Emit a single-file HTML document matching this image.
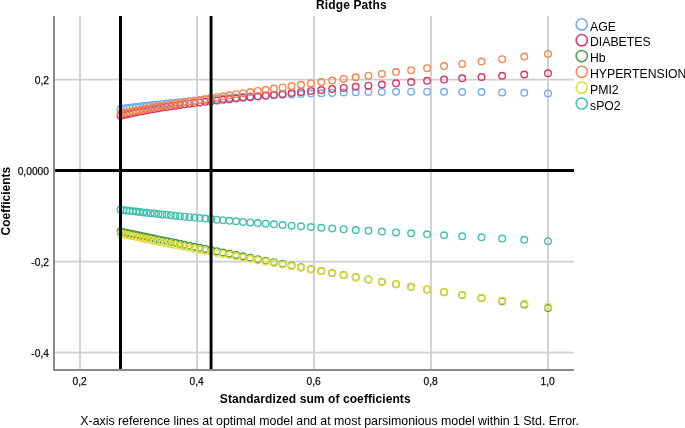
<!DOCTYPE html>
<html><head><meta charset="utf-8"><style>
html,body{margin:0;padding:0;background:#fff;}
svg{display:block;will-change:transform;}
text{font-family:"Liberation Sans",sans-serif;fill:#000;}
</style></head><body>
<svg width="685" height="428" viewBox="0 0 685 428">
<rect x="0" y="0" width="685" height="428" fill="#fff"/>
<g fill="#cfcfcf"><rect x="79.10" y="16" width="1.8" height="353" /><rect x="196.10" y="16" width="1.8" height="353" /><rect x="313.10" y="16" width="1.8" height="353" /><rect x="430.10" y="16" width="1.8" height="353" /><rect x="547.10" y="16" width="1.8" height="353" /><rect x="55" y="78.70" width="519" height="1.8" /><rect x="55" y="260.70" width="519" height="1.8" /><rect x="55" y="351.60" width="519" height="1.8" /></g>
<g fill="none" stroke="#74a9f0" stroke-width="1.4"><circle cx="120.60" cy="108.92" r="3.3"/><circle cx="123.43" cy="108.55" r="3.3"/><circle cx="126.42" cy="108.17" r="3.3"/><circle cx="129.56" cy="107.77" r="3.3"/><circle cx="132.82" cy="107.37" r="3.3"/><circle cx="136.19" cy="106.95" r="3.3"/><circle cx="139.66" cy="106.54" r="3.3"/><circle cx="143.22" cy="106.11" r="3.3"/><circle cx="146.88" cy="105.69" r="3.3"/><circle cx="150.63" cy="105.26" r="3.3"/><circle cx="154.47" cy="104.83" r="3.3"/><circle cx="158.42" cy="104.39" r="3.3"/><circle cx="162.47" cy="103.96" r="3.3"/><circle cx="166.63" cy="103.52" r="3.3"/><circle cx="170.92" cy="103.07" r="3.3"/><circle cx="175.34" cy="102.63" r="3.3"/><circle cx="179.90" cy="102.18" r="3.3"/><circle cx="184.62" cy="101.73" r="3.3"/><circle cx="189.50" cy="101.27" r="3.3"/><circle cx="194.56" cy="100.81" r="3.3"/><circle cx="199.81" cy="100.35" r="3.3"/><circle cx="205.27" cy="99.88" r="3.3"/><circle cx="210.94" cy="99.42" r="3.3"/><circle cx="216.84" cy="98.95" r="3.3"/><circle cx="222.98" cy="98.48" r="3.3"/><circle cx="229.37" cy="98.01" r="3.3"/><circle cx="236.04" cy="97.54" r="3.3"/><circle cx="242.98" cy="97.07" r="3.3"/><circle cx="250.23" cy="96.60" r="3.3"/><circle cx="257.79" cy="96.15" r="3.3"/><circle cx="265.69" cy="95.70" r="3.3"/><circle cx="273.94" cy="95.25" r="3.3"/><circle cx="282.56" cy="94.82" r="3.3"/><circle cx="291.57" cy="94.41" r="3.3"/><circle cx="301.02" cy="94.00" r="3.3"/><circle cx="310.91" cy="93.62" r="3.3"/><circle cx="321.28" cy="93.26" r="3.3"/><circle cx="332.18" cy="92.93" r="3.3"/><circle cx="343.64" cy="92.62" r="3.3"/><circle cx="355.70" cy="92.35" r="3.3"/><circle cx="368.42" cy="92.12" r="3.3"/><circle cx="381.85" cy="91.93" r="3.3"/><circle cx="396.05" cy="91.80" r="3.3"/><circle cx="411.11" cy="91.71" r="3.3"/><circle cx="427.09" cy="91.70" r="3.3"/><circle cx="444.08" cy="91.75" r="3.3"/><circle cx="462.18" cy="91.88" r="3.3"/><circle cx="481.50" cy="92.11" r="3.3"/><circle cx="502.16" cy="92.42" r="3.3"/><circle cx="524.28" cy="92.85" r="3.3"/><circle cx="548.00" cy="93.39" r="3.3"/></g>
<g fill="none" stroke="#d8365f" stroke-width="1.4"><circle cx="120.60" cy="115.63" r="3.3"/><circle cx="123.43" cy="114.99" r="3.3"/><circle cx="126.42" cy="114.33" r="3.3"/><circle cx="129.56" cy="113.65" r="3.3"/><circle cx="132.82" cy="112.97" r="3.3"/><circle cx="136.19" cy="112.28" r="3.3"/><circle cx="139.66" cy="111.60" r="3.3"/><circle cx="143.22" cy="110.91" r="3.3"/><circle cx="146.88" cy="110.24" r="3.3"/><circle cx="150.63" cy="109.56" r="3.3"/><circle cx="154.47" cy="108.90" r="3.3"/><circle cx="158.42" cy="108.23" r="3.3"/><circle cx="162.47" cy="107.58" r="3.3"/><circle cx="166.63" cy="106.93" r="3.3"/><circle cx="170.92" cy="106.28" r="3.3"/><circle cx="175.34" cy="105.64" r="3.3"/><circle cx="179.90" cy="105.00" r="3.3"/><circle cx="184.62" cy="104.36" r="3.3"/><circle cx="189.50" cy="103.72" r="3.3"/><circle cx="194.56" cy="103.09" r="3.3"/><circle cx="199.81" cy="102.45" r="3.3"/><circle cx="205.27" cy="101.81" r="3.3"/><circle cx="210.94" cy="101.17" r="3.3"/><circle cx="216.84" cy="100.53" r="3.3"/><circle cx="222.98" cy="99.87" r="3.3"/><circle cx="229.37" cy="99.21" r="3.3"/><circle cx="236.04" cy="98.54" r="3.3"/><circle cx="242.98" cy="97.84" r="3.3"/><circle cx="250.23" cy="97.13" r="3.3"/><circle cx="257.79" cy="96.38" r="3.3"/><circle cx="265.69" cy="95.60" r="3.3"/><circle cx="273.94" cy="94.78" r="3.3"/><circle cx="282.56" cy="93.92" r="3.3"/><circle cx="291.57" cy="93.02" r="3.3"/><circle cx="301.02" cy="92.07" r="3.3"/><circle cx="310.91" cy="91.08" r="3.3"/><circle cx="321.28" cy="90.06" r="3.3"/><circle cx="332.18" cy="89.00" r="3.3"/><circle cx="343.64" cy="87.92" r="3.3"/><circle cx="355.70" cy="86.81" r="3.3"/><circle cx="368.42" cy="85.67" r="3.3"/><circle cx="381.85" cy="84.50" r="3.3"/><circle cx="396.05" cy="83.31" r="3.3"/><circle cx="411.11" cy="82.09" r="3.3"/><circle cx="427.09" cy="80.85" r="3.3"/><circle cx="444.08" cy="79.59" r="3.3"/><circle cx="462.18" cy="78.32" r="3.3"/><circle cx="481.50" cy="77.04" r="3.3"/><circle cx="502.16" cy="75.75" r="3.3"/><circle cx="524.28" cy="74.48" r="3.3"/><circle cx="548.00" cy="73.23" r="3.3"/></g>
<g fill="none" stroke="#4a9c48" stroke-width="1.4"><circle cx="120.60" cy="231.57" r="3.3"/><circle cx="123.43" cy="232.16" r="3.3"/><circle cx="126.42" cy="232.79" r="3.3"/><circle cx="129.56" cy="233.44" r="3.3"/><circle cx="132.82" cy="234.12" r="3.3"/><circle cx="136.19" cy="234.82" r="3.3"/><circle cx="139.66" cy="235.54" r="3.3"/><circle cx="143.22" cy="236.28" r="3.3"/><circle cx="146.88" cy="237.04" r="3.3"/><circle cx="150.63" cy="237.81" r="3.3"/><circle cx="154.47" cy="238.60" r="3.3"/><circle cx="158.42" cy="239.41" r="3.3"/><circle cx="162.47" cy="240.24" r="3.3"/><circle cx="166.63" cy="241.09" r="3.3"/><circle cx="170.92" cy="241.97" r="3.3"/><circle cx="175.34" cy="242.87" r="3.3"/><circle cx="179.90" cy="243.79" r="3.3"/><circle cx="184.62" cy="244.75" r="3.3"/><circle cx="189.50" cy="245.73" r="3.3"/><circle cx="194.56" cy="246.75" r="3.3"/><circle cx="199.81" cy="247.80" r="3.3"/><circle cx="205.27" cy="248.89" r="3.3"/><circle cx="210.94" cy="250.01" r="3.3"/><circle cx="216.84" cy="251.18" r="3.3"/><circle cx="222.98" cy="252.39" r="3.3"/><circle cx="229.37" cy="253.65" r="3.3"/><circle cx="236.04" cy="254.95" r="3.3"/><circle cx="242.98" cy="256.30" r="3.3"/><circle cx="250.23" cy="257.70" r="3.3"/><circle cx="257.79" cy="259.16" r="3.3"/><circle cx="265.69" cy="260.67" r="3.3"/><circle cx="273.94" cy="262.23" r="3.3"/><circle cx="282.56" cy="263.86" r="3.3"/><circle cx="291.57" cy="265.55" r="3.3"/><circle cx="301.02" cy="267.31" r="3.3"/><circle cx="310.91" cy="269.14" r="3.3"/><circle cx="321.28" cy="271.04" r="3.3"/><circle cx="332.18" cy="273.01" r="3.3"/><circle cx="343.64" cy="275.07" r="3.3"/><circle cx="355.70" cy="277.22" r="3.3"/><circle cx="368.42" cy="279.45" r="3.3"/><circle cx="381.85" cy="281.78" r="3.3"/><circle cx="396.05" cy="284.21" r="3.3"/><circle cx="411.11" cy="286.75" r="3.3"/><circle cx="427.09" cy="289.41" r="3.3"/><circle cx="444.08" cy="292.18" r="3.3"/><circle cx="462.18" cy="295.07" r="3.3"/><circle cx="481.50" cy="298.10" r="3.3"/><circle cx="502.16" cy="301.25" r="3.3"/><circle cx="524.28" cy="304.54" r="3.3"/><circle cx="548.00" cy="307.95" r="3.3"/></g>
<g fill="none" stroke="#f5864f" stroke-width="1.4"><circle cx="120.60" cy="113.63" r="3.3"/><circle cx="123.43" cy="113.10" r="3.3"/><circle cx="126.42" cy="112.54" r="3.3"/><circle cx="129.56" cy="111.97" r="3.3"/><circle cx="132.82" cy="111.37" r="3.3"/><circle cx="136.19" cy="110.76" r="3.3"/><circle cx="139.66" cy="110.13" r="3.3"/><circle cx="143.22" cy="109.49" r="3.3"/><circle cx="146.88" cy="108.84" r="3.3"/><circle cx="150.63" cy="108.18" r="3.3"/><circle cx="154.47" cy="107.50" r="3.3"/><circle cx="158.42" cy="106.82" r="3.3"/><circle cx="162.47" cy="106.12" r="3.3"/><circle cx="166.63" cy="105.40" r="3.3"/><circle cx="170.92" cy="104.67" r="3.3"/><circle cx="175.34" cy="103.92" r="3.3"/><circle cx="179.90" cy="103.16" r="3.3"/><circle cx="184.62" cy="102.37" r="3.3"/><circle cx="189.50" cy="101.57" r="3.3"/><circle cx="194.56" cy="100.74" r="3.3"/><circle cx="199.81" cy="99.89" r="3.3"/><circle cx="205.27" cy="99.02" r="3.3"/><circle cx="210.94" cy="98.12" r="3.3"/><circle cx="216.84" cy="97.19" r="3.3"/><circle cx="222.98" cy="96.23" r="3.3"/><circle cx="229.37" cy="95.24" r="3.3"/><circle cx="236.04" cy="94.22" r="3.3"/><circle cx="242.98" cy="93.17" r="3.3"/><circle cx="250.23" cy="92.09" r="3.3"/><circle cx="257.79" cy="90.97" r="3.3"/><circle cx="265.69" cy="89.82" r="3.3"/><circle cx="273.94" cy="88.62" r="3.3"/><circle cx="282.56" cy="87.39" r="3.3"/><circle cx="291.57" cy="86.11" r="3.3"/><circle cx="301.02" cy="84.78" r="3.3"/><circle cx="310.91" cy="83.41" r="3.3"/><circle cx="321.28" cy="81.99" r="3.3"/><circle cx="332.18" cy="80.51" r="3.3"/><circle cx="343.64" cy="78.97" r="3.3"/><circle cx="355.70" cy="77.36" r="3.3"/><circle cx="368.42" cy="75.69" r="3.3"/><circle cx="381.85" cy="73.94" r="3.3"/><circle cx="396.05" cy="72.11" r="3.3"/><circle cx="411.11" cy="70.20" r="3.3"/><circle cx="427.09" cy="68.20" r="3.3"/><circle cx="444.08" cy="66.10" r="3.3"/><circle cx="462.18" cy="63.90" r="3.3"/><circle cx="481.50" cy="61.59" r="3.3"/><circle cx="502.16" cy="59.16" r="3.3"/><circle cx="524.28" cy="56.60" r="3.3"/><circle cx="548.00" cy="53.92" r="3.3"/></g>
<g fill="none" stroke="#e3dc34" stroke-width="1.4"><circle cx="120.60" cy="233.67" r="3.3"/><circle cx="123.43" cy="234.27" r="3.3"/><circle cx="126.42" cy="234.92" r="3.3"/><circle cx="129.56" cy="235.59" r="3.3"/><circle cx="132.82" cy="236.28" r="3.3"/><circle cx="136.19" cy="237.00" r="3.3"/><circle cx="139.66" cy="237.74" r="3.3"/><circle cx="143.22" cy="238.50" r="3.3"/><circle cx="146.88" cy="239.27" r="3.3"/><circle cx="150.63" cy="240.06" r="3.3"/><circle cx="154.47" cy="240.88" r="3.3"/><circle cx="158.42" cy="241.71" r="3.3"/><circle cx="162.47" cy="242.52" r="3.3"/><circle cx="166.63" cy="243.33" r="3.3"/><circle cx="170.92" cy="244.16" r="3.3"/><circle cx="175.34" cy="245.01" r="3.3"/><circle cx="179.90" cy="245.89" r="3.3"/><circle cx="184.62" cy="246.80" r="3.3"/><circle cx="189.50" cy="247.73" r="3.3"/><circle cx="194.56" cy="248.70" r="3.3"/><circle cx="199.81" cy="249.70" r="3.3"/><circle cx="205.27" cy="250.70" r="3.3"/><circle cx="210.94" cy="251.74" r="3.3"/><circle cx="216.84" cy="252.81" r="3.3"/><circle cx="222.98" cy="253.92" r="3.3"/><circle cx="229.37" cy="255.08" r="3.3"/><circle cx="236.04" cy="256.27" r="3.3"/><circle cx="242.98" cy="257.51" r="3.3"/><circle cx="250.23" cy="258.80" r="3.3"/><circle cx="257.79" cy="260.15" r="3.3"/><circle cx="265.69" cy="261.55" r="3.3"/><circle cx="273.94" cy="263.00" r="3.3"/><circle cx="282.56" cy="264.51" r="3.3"/><circle cx="291.57" cy="266.07" r="3.3"/><circle cx="301.02" cy="267.71" r="3.3"/><circle cx="310.91" cy="269.49" r="3.3"/><circle cx="321.28" cy="271.35" r="3.3"/><circle cx="332.18" cy="273.28" r="3.3"/><circle cx="343.64" cy="275.30" r="3.3"/><circle cx="355.70" cy="277.39" r="3.3"/><circle cx="368.42" cy="279.58" r="3.3"/><circle cx="381.85" cy="281.85" r="3.3"/><circle cx="396.05" cy="284.23" r="3.3"/><circle cx="411.11" cy="286.71" r="3.3"/><circle cx="427.09" cy="289.30" r="3.3"/><circle cx="444.08" cy="292.00" r="3.3"/><circle cx="462.18" cy="294.77" r="3.3"/><circle cx="481.50" cy="297.64" r="3.3"/><circle cx="502.16" cy="300.62" r="3.3"/><circle cx="524.28" cy="303.73" r="3.3"/><circle cx="548.00" cy="306.95" r="3.3"/></g>
<g fill="none" stroke="#3ec1ae" stroke-width="1.4"><circle cx="120.60" cy="209.84" r="3.3"/><circle cx="123.43" cy="210.17" r="3.3"/><circle cx="126.42" cy="210.51" r="3.3"/><circle cx="129.56" cy="210.87" r="3.3"/><circle cx="132.82" cy="211.24" r="3.3"/><circle cx="136.19" cy="211.62" r="3.3"/><circle cx="139.66" cy="212.00" r="3.3"/><circle cx="143.22" cy="212.39" r="3.3"/><circle cx="146.88" cy="212.79" r="3.3"/><circle cx="150.63" cy="213.19" r="3.3"/><circle cx="154.47" cy="213.60" r="3.3"/><circle cx="158.42" cy="214.02" r="3.3"/><circle cx="162.47" cy="214.44" r="3.3"/><circle cx="166.63" cy="214.86" r="3.3"/><circle cx="170.92" cy="215.30" r="3.3"/><circle cx="175.34" cy="215.74" r="3.3"/><circle cx="179.90" cy="216.19" r="3.3"/><circle cx="184.62" cy="216.66" r="3.3"/><circle cx="189.50" cy="217.13" r="3.3"/><circle cx="194.56" cy="217.61" r="3.3"/><circle cx="199.81" cy="218.10" r="3.3"/><circle cx="205.27" cy="218.60" r="3.3"/><circle cx="210.94" cy="219.12" r="3.3"/><circle cx="216.84" cy="219.64" r="3.3"/><circle cx="222.98" cy="220.18" r="3.3"/><circle cx="229.37" cy="220.73" r="3.3"/><circle cx="236.04" cy="221.30" r="3.3"/><circle cx="242.98" cy="221.88" r="3.3"/><circle cx="250.23" cy="222.47" r="3.3"/><circle cx="257.79" cy="223.08" r="3.3"/><circle cx="265.69" cy="223.70" r="3.3"/><circle cx="273.94" cy="224.33" r="3.3"/><circle cx="282.56" cy="224.98" r="3.3"/><circle cx="291.57" cy="225.64" r="3.3"/><circle cx="301.02" cy="226.32" r="3.3"/><circle cx="310.91" cy="227.02" r="3.3"/><circle cx="321.28" cy="227.73" r="3.3"/><circle cx="332.18" cy="228.46" r="3.3"/><circle cx="343.64" cy="229.22" r="3.3"/><circle cx="355.70" cy="229.99" r="3.3"/><circle cx="368.42" cy="230.79" r="3.3"/><circle cx="381.85" cy="231.61" r="3.3"/><circle cx="396.05" cy="232.47" r="3.3"/><circle cx="411.11" cy="233.36" r="3.3"/><circle cx="427.09" cy="234.28" r="3.3"/><circle cx="444.08" cy="235.26" r="3.3"/><circle cx="462.18" cy="236.28" r="3.3"/><circle cx="481.50" cy="237.37" r="3.3"/><circle cx="502.16" cy="238.54" r="3.3"/><circle cx="524.28" cy="239.80" r="3.3"/><circle cx="548.00" cy="241.18" r="3.3"/></g>
<g fill="#000" shape-rendering="crispEdges">
<rect x="119" y="16" width="3" height="353"/>
<rect x="209.6" y="16" width="2.9" height="353" shape-rendering="auto"/>
<rect x="54.5" y="169" width="519.5" height="3"/>
</g>
<g fill="#8a8a8a" shape-rendering="crispEdges">
<rect x="53" y="16" width="2" height="355"/>
<rect x="53" y="369" width="521" height="2"/>
</g>
<g font-size="10.25" fill="#222" stroke="#222" stroke-width="0.25"><text x="79.6" y="384.8" text-anchor="middle">0,2</text><text x="196.6" y="384.8" text-anchor="middle">0,4</text><text x="313.6" y="384.8" text-anchor="middle">0,6</text><text x="430.6" y="384.8" text-anchor="middle">0,8</text><text x="547.6" y="384.8" text-anchor="middle">1,0</text><text x="49" y="84.4" text-anchor="end">0,2</text><text x="49" y="175.1" text-anchor="end">0,0000</text><text x="49" y="265.8" text-anchor="end">-0,2</text><text x="49" y="356.7" text-anchor="end">-0,4</text></g>
<text x="316.0" y="8.9" font-size="12" font-weight="bold" textLength="70.6">Ridge Paths</text>
<text transform="translate(9.7,235.4) rotate(-90)" font-size="12" font-weight="bold">Coefficients</text>
<text x="219.8" y="403" font-size="12" font-weight="bold" textLength="190.8">Standardized sum of coefficients</text>
<text x="80.3" y="424.5" font-size="12.4" fill="#222" textLength="498.6">X-axis reference lines at optimal model and at most parsimonious model within 1 Std. Error.</text>
<g font-size="12.25" fill="#222"><circle cx="581.7" cy="24.40" r="5.6" fill="none" stroke="#74a9f0" stroke-width="1.5"/><text x="590" y="30.60">AGE</text><circle cx="581.7" cy="40.22" r="5.6" fill="none" stroke="#d8365f" stroke-width="1.5"/><text x="590" y="46.42">DIABETES</text><circle cx="581.7" cy="56.04" r="5.6" fill="none" stroke="#4a9c48" stroke-width="1.5"/><text x="590" y="62.24">Hb</text><circle cx="581.7" cy="71.86" r="5.6" fill="none" stroke="#f5864f" stroke-width="1.5"/><text x="590" y="78.06">HYPERTENSION</text><circle cx="581.7" cy="87.68" r="5.6" fill="none" stroke="#e3dc34" stroke-width="1.5"/><text x="590" y="93.88">PMI2</text><circle cx="581.7" cy="103.50" r="5.6" fill="none" stroke="#3ec1ae" stroke-width="1.5"/><text x="590" y="109.70">sPO2</text></g>
</svg>
</body></html>
